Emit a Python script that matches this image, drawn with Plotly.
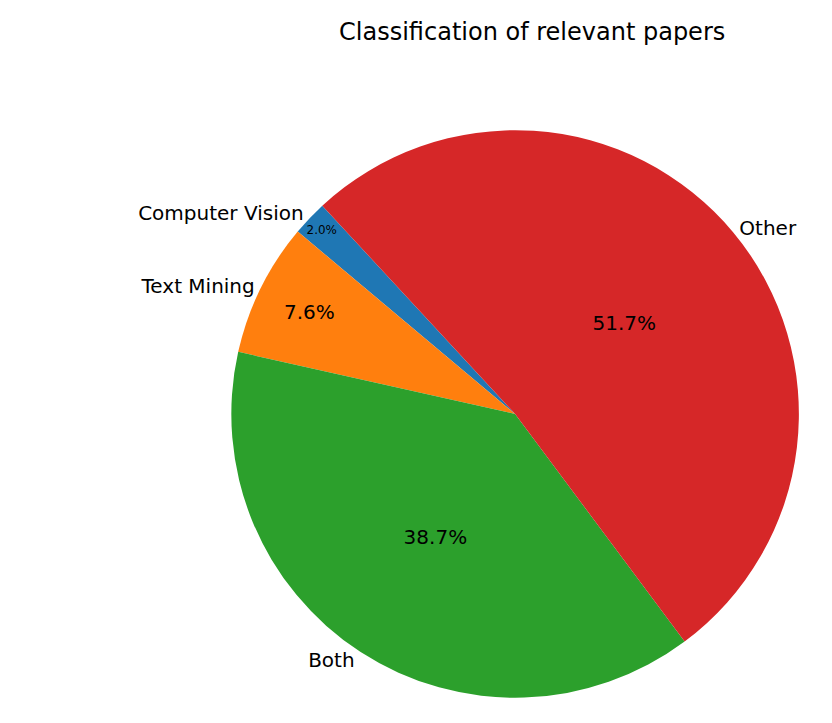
import plotly.graph_objects as go

labels = ["Computer Vision", "Text Mining", "Both", "Other"]
shares = [2.0, 7.6, 38.7, 51.7]
colors = ["#1f77b4", "#ff7f0e", "#2ca02c", "#d62728"]

font = dict(family="DejaVu Sans", size=20, color="black")
dom = dict(x=[0.268, 0.951], y=[0.046, 0.831])

fig = go.Figure()
# slices with percentages inside
fig.add_trace(go.Pie(
    labels=labels, values=shares, sort=False, direction="counterclockwise",
    rotation=-50, marker=dict(colors=colors, line=dict(width=0)),
    texttemplate="%{percent:.1%}", textposition="inside", insidetextorientation="horizontal",
    insidetextfont=font, domain=dom, showlegend=False, hoverinfo="label+percent",
))
# transparent copy carrying the outside labels
fig.add_trace(go.Pie(
    labels=labels, values=shares, sort=False, direction="counterclockwise",
    rotation=-50, marker=dict(colors=["rgba(0,0,0,0)"] * 4, line=dict(width=0)),
    texttemplate="%{label}", textposition="outside", outsidetextfont=font,
    domain=dom, showlegend=False, hoverinfo="skip",
))

fig.update_layout(
    width=832, height=723, paper_bgcolor="white", plot_bgcolor="white",
    margin=dict(l=0, r=0, t=0, b=0),
    title=dict(text="Classification of relevant papers", x=0.63, xanchor="center",
               y=0.967, yanchor="middle", font=dict(family="DejaVu Sans", size=24, color="black")),
)

fig.write_html("out.html")
